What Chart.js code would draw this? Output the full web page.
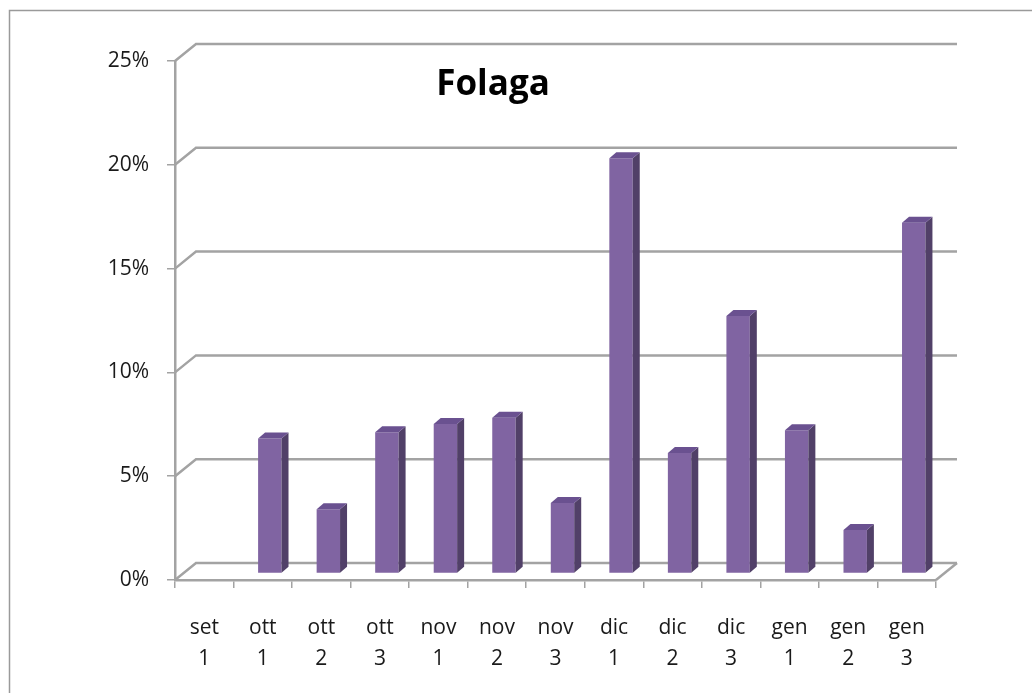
<!DOCTYPE html>
<html>
<head>
<meta charset="utf-8">
<script src="https://cdn.jsdelivr.net/npm/chart.js@4.4.1/dist/chart.umd.min.js"></script>
<style>
  body { margin: 0; background: #fff; }
  canvas { display: block; }
</style>
</head>
<body>
<canvas id="folagactr" width="1032" height="693"></canvas>
<script>
// dati
const decadi = [['set', '1'], ['ott', '1'], ['ott', '2'], ['ott', '3'], ['nov', '1'], ['nov', '2'], ['nov', '3'],
  ['dic', '1'], ['dic', '2'], ['dic', '3'], ['gen', '1'], ['gen', '2'], ['gen', '3']];
const percentuali = [0, 6.5, 3.1, 6.8, 7.2, 7.5, 3.4, 20.0, 5.8, 12.4, 6.9, 2.1, 16.9];
const tickPercento = [0, 5, 10, 15, 20, 25];

const grigio = '#a3a3a3';
const pareteDx = 21, pareteDy = -17;   // spostamento parete di fondo
const barraDx = 7, barraDy = -6.5;     // barre a meta' profondita'
const profDx = 7, profDy = -6;         // spessore 3D della barra

const finto3d = {
  id: 'finto3d',
  beforeDraw(chart) {
    const ctx = chart.ctx;
    ctx.save();
    ctx.strokeStyle = '#9a9a9a';
    ctx.lineWidth = 1.5;
    ctx.beginPath();
    ctx.moveTo(9.5, 693);
    ctx.lineTo(9.5, 10.5);
    ctx.lineTo(1032, 10.5);
    ctx.stroke();
    // titolo
    ctx.fillStyle = '#000';
    ctx.font = 'bold 35px "Open Sans"';
    ctx.textAlign = 'center';
    ctx.textBaseline = 'alphabetic';
    ctx.fillText('Folaga', 493, 95);
    ctx.restore();
  },
  beforeDatasetsDraw(chart) {
    const ctx = chart.ctx;
    const area = chart.chartArea;
    const y = chart.scales.y;
    ctx.save();
    ctx.strokeStyle = grigio;
    ctx.lineWidth = 2.5;
    tickPercento.forEach(v => {
      const py = y.getPixelForValue(v);
      ctx.beginPath();
      ctx.moveTo(area.left, py);
      ctx.lineTo(area.left + pareteDx, py + pareteDy);
      ctx.lineTo(area.right + pareteDx, py + pareteDy);
      ctx.stroke();
    });
    // bordo destro del pavimento
    ctx.beginPath();
    ctx.moveTo(area.right, area.bottom);
    ctx.lineTo(area.right + pareteDx, area.bottom + pareteDy);
    ctx.stroke();
    ctx.restore();

    ctx.save();
    ctx.translate(barraDx, barraDy);
  },
  afterDatasetsDraw(chart) {
    const ctx = chart.ctx;
    const meta = chart.getDatasetMeta(0);
    meta.data.forEach((bar, i) => {
      if (!percentuali[i]) return;
      const p = bar.getProps(['x', 'y', 'base', 'width']);
      const l = p.x - p.width / 2, r = p.x + p.width / 2;
      // lato
      ctx.fillStyle = '#514068';
      ctx.beginPath();
      ctx.moveTo(r, p.y);
      ctx.lineTo(r + profDx, p.y + profDy);
      ctx.lineTo(r + profDx, p.base + profDy);
      ctx.lineTo(r, p.base);
      ctx.closePath();
      ctx.fill();
      // coperchio
      ctx.fillStyle = '#6a5190';
      ctx.beginPath();
      ctx.moveTo(l, p.y);
      ctx.lineTo(l + profDx, p.y + profDy);
      ctx.lineTo(r + profDx, p.y + profDy);
      ctx.lineTo(r, p.y);
      ctx.closePath();
      ctx.fill();
    });
    ctx.restore();
  }
};

document.addEventListener('DOMContentLoaded', () => {
  const ctxFolaga = document.getElementById('folagactr').getContext('2d');
  const chartFolaga = new Chart(ctxFolaga, {
    type: 'bar',
    data: {
      labels: decadi,
      datasets: [{
        data: percentuali,
        backgroundColor: '#8064a2',
        borderWidth: 0,
        barPercentage: 0.4,
        categoryPercentage: 1
      }]
    },
    options: {
      responsive: false,
      animation: false,
      layout: { padding: { top: 61, right: 96, left: 0, bottom: 0 } },
      plugins: {
        legend: { display: false },
        tooltip: { enabled: false },
        title: { display: false }
      },
      scales: {
        x: {
          afterFit: scale => { scale.height = 113; },
          grid: { drawOnChartArea: false, tickLength: 8, color: grigio, lineWidth: 1.5 },
          border: { display: true, color: grigio, width: 2.5 },
          ticks: {
            color: '#1a1a1a',
            padding: 24,
            maxRotation: 0,
            autoSkip: false,
            font: { family: '"Open Sans"', size: 21, lineHeight: 1.5 }
          }
        },
        y: {
          min: 0,
          max: 25,
          afterFit: scale => { scale.width = 175; },
          afterBuildTicks: scale => { scale.ticks = tickPercento.map(v => ({ value: v })); },
          grid: { drawOnChartArea: false, tickLength: 8, color: grigio, lineWidth: 1.5 },
          border: { display: true, color: grigio, width: 2.5 },
          ticks: {
            color: '#1a1a1a',
            padding: 18,
            font: { family: '"Open Sans"', size: 21 },
            callback: v => v + '%'
          }
        }
      }
    },
    plugins: [finto3d]
  });
});
</script>
</body>
</html>
